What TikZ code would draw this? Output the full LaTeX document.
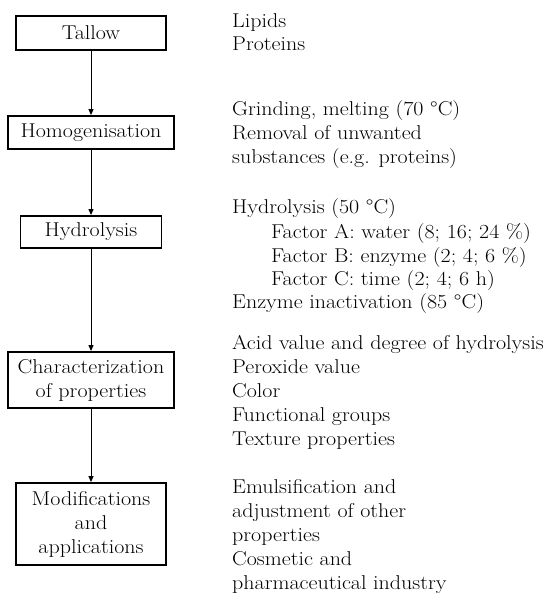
\documentclass[tikz,border=0pt]{standalone}
\usepackage{fontspec}
\setmainfont{Latin Modern Roman}[FakeStretch=1.1]
\usetikzlibrary{arrows.meta}
\begin{document}
\begin{tikzpicture}[x=1pt,y=-1pt,
  stepbox/.style={draw, line width=1.8pt, inner sep=0pt, align=center,
    font=\fontsize{20}{24}\selectfont},
  info/.style={anchor=base west, inner sep=0pt, font=\fontsize{20}{24}\selectfont},
  flow/.style={line width=1pt, -{Triangle[length=6pt,width=5pt]}}]
\useasboundingbox (0,0) rectangle (550,602);
% boxes
\node[stepbox, minimum width=150pt, minimum height=34pt] (tallow) at (91,33) {Tallow};
\node[stepbox, minimum width=166pt, minimum height=33pt] (homog) at (91,132.5) {Homogenisation};
\node[stepbox, minimum width=141pt, minimum height=32pt] (hydro) at (91,232) {Hydrolysis};
\node[stepbox, minimum width=166pt, minimum height=56pt] (char) at (91,380) {Characterization\\of properties};
\node[stepbox, minimum width=150pt, minimum height=82pt] (mod) at (91,524) {Modifications\\and\\applications};
% arrows
\draw[flow] (tallow.south) -- (homog.north);
\draw[flow] (homog.south) -- (hydro.north);
\draw[flow] (hydro.south) -- (char.north);
\draw[flow] (char.south) -- (mod.north);
% right column
\node[info] (t1) at (232,27.5) {Lipids};
\node[info] (t2) at (232,51) {Proteins};
\node[info] (t3) at (232,115) {Grinding, melting (70 °C)};
\node[info] (t4) at (232,139.5) {Removal of unwanted};
\node[info] (t5) at (232,163) {substances (e.g. proteins)};
\node[info] (t6) at (232,213.5) {Hydrolysis (50 °C)};
\node[info] (t7) at (271,238) {Factor A: water (8; 16; 24 \%)};
\node[info] (t8) at (271,262) {Factor B: enzyme (2; 4; 6 \%)};
\node[info] (t9) at (271,285) {Factor C: time (2; 4; 6 h)};
\node[info] (t10) at (232,308.5) {Enzyme inactivation (85 °C)};
\node[info] (t11) at (232,349.5) {Acid value and degree of hydrolysis};
\node[info] (t12) at (232,373) {Peroxide value};
\node[info] (t13) at (232,397) {Color};
\node[info] (t14) at (232,421.5) {Functional groups};
\node[info] (t15) at (232,445) {Texture properties};
\node[info] (t16) at (232,493) {Emulsification and};
\node[info] (t17) at (232,517) {adjustment of other};
\node[info] (t18) at (232,541.5) {properties};
\node[info] (t19) at (232,565) {Cosmetic and};
\node[info] (t20) at (232,589.5) {pharmaceutical industry};
\end{tikzpicture}
\end{document}
